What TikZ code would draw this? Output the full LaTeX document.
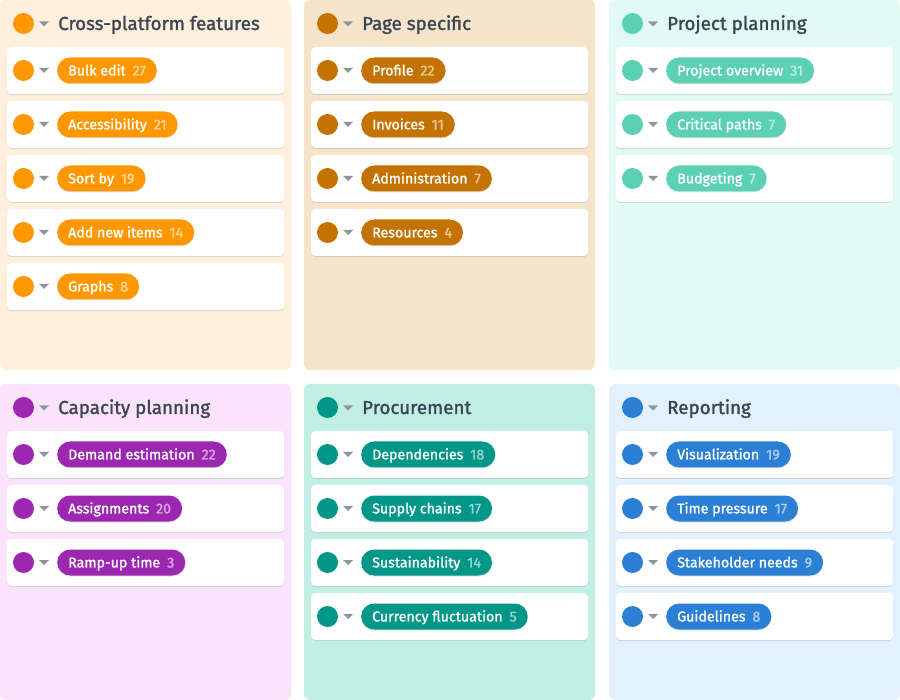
\documentclass[tikz,border=0pt]{standalone}
\usepackage{fontspec}
\setmainfont{Fira Sans}
\newfontfamily\medfont{Fira Sans}[FakeBold=1.5]
\usetikzlibrary{shadows}
\definecolor{cpf}{HTML}{FF9800}
\definecolor{bgcpf}{HTML}{FFF0DD}
\definecolor{pgs}{HTML}{C47200}
\definecolor{bgpgs}{HTML}{F5E4CA}
\definecolor{prj}{HTML}{5BD0B4}
\definecolor{bgprj}{HTML}{E2FAF4}
\definecolor{cap}{HTML}{9C27B0}
\definecolor{bgcap}{HTML}{FAE3FB}
\definecolor{prc}{HTML}{009688}
\definecolor{bgprc}{HTML}{C2EFE4}
\definecolor{rep}{HTML}{2B7FD4}
\definecolor{bgrep}{HTML}{E3F0FD}
\definecolor{ink}{HTML}{3B4554}
\definecolor{caret}{HTML}{8F959E}
\tikzset{%
  panelbox/.style={rounded corners=6pt},
  card/.style={rectangle, fill=white, rounded corners=4pt, inner sep=0pt,
    minimum width=277pt, minimum height=47pt,
    drop shadow={shadow xshift=0pt, shadow yshift=-1pt, opacity=0.25}},
  dot/.style={circle, minimum size=21pt, inner sep=0pt},
  pill/.style={rectangle, rounded corners=13pt, minimum height=26pt, inner xsep=11pt,
    inner ysep=0pt, text height=9.8pt, text depth=0pt, text=white,
    font=\medfont\fontsize{14.2}{15}\selectfont,
    drop shadow={shadow xshift=0pt, shadow yshift=-1pt, opacity=0.2}},
  ttl/.style={text=ink, font=\medfont\fontsize{18.8}{21}\selectfont, inner sep=0pt}
}

\begin{document}
\begin{tikzpicture}[x=1pt, y=-1pt]
\useasboundingbox (0,0) rectangle (900,700);

\foreach \px/\py/\ph/\col/\name/\items [count=\i] in {
  0/0/370/cpf/{Cross-platform features}/{Bulk edit/27, Accessibility/21, Sort by/19, Add new items/14, Graphs/8},
  304/0/370/pgs/{Page specific}/{Profile/22, Invoices/11, Administration/7, Resources/4},
  609/0/370/prj/{Project planning}/{Project overview/31, Critical paths/7, Budgeting/7},
  0/384/316/cap/{Capacity planning}/{Demand estimation/22, Assignments/20, Ramp-up time/3},
  304/384/316/prc/{Procurement}/{Dependencies/18, Supply chains/17, Sustainability/14, Currency fluctuation/5},
  609/384/316/rep/{Reporting}/{Visualization/19, Time pressure/17, Stakeholder needs/9, Guidelines/8}} {
  % panel and header
  \fill [panelbox, bg\col] (\px,\py) rectangle (\px+291,\py+\ph);
  \node [dot, fill=\col] (h\i) at (\px+23.5,\py+23.5) {};
  \fill [caret] (\px+39,\py+21.5) -- (\px+49,\py+21.5) -- (\px+44,\py+26.5) -- cycle;
  \node [ttl, anchor=base west] (t\i) at (\px+58,\py+30) {\name};
  % cards
  \foreach \lab/\num [count=\k] in \items {
    \pgfmathsetmacro\cy{\py+70.5+54*(\k-1)}
    \node [card] (c\i\k) at (\px+145.5,\cy) {};
    \node [dot, fill=\col] (d\i\k) at (\px+23.5,\cy) {};
    \fill [caret] (\px+39,\cy-2.5) -- (\px+49,\cy-2.5) -- (\px+44,\cy+2.5) -- cycle;
    \node [pill, fill=\col, anchor=west] (p\i\k) at (\px+57,\cy)
      {\lab\hspace{7pt}\textcolor{white!60!\col}{\num}};
  }
}

\end{tikzpicture}
\end{document}
